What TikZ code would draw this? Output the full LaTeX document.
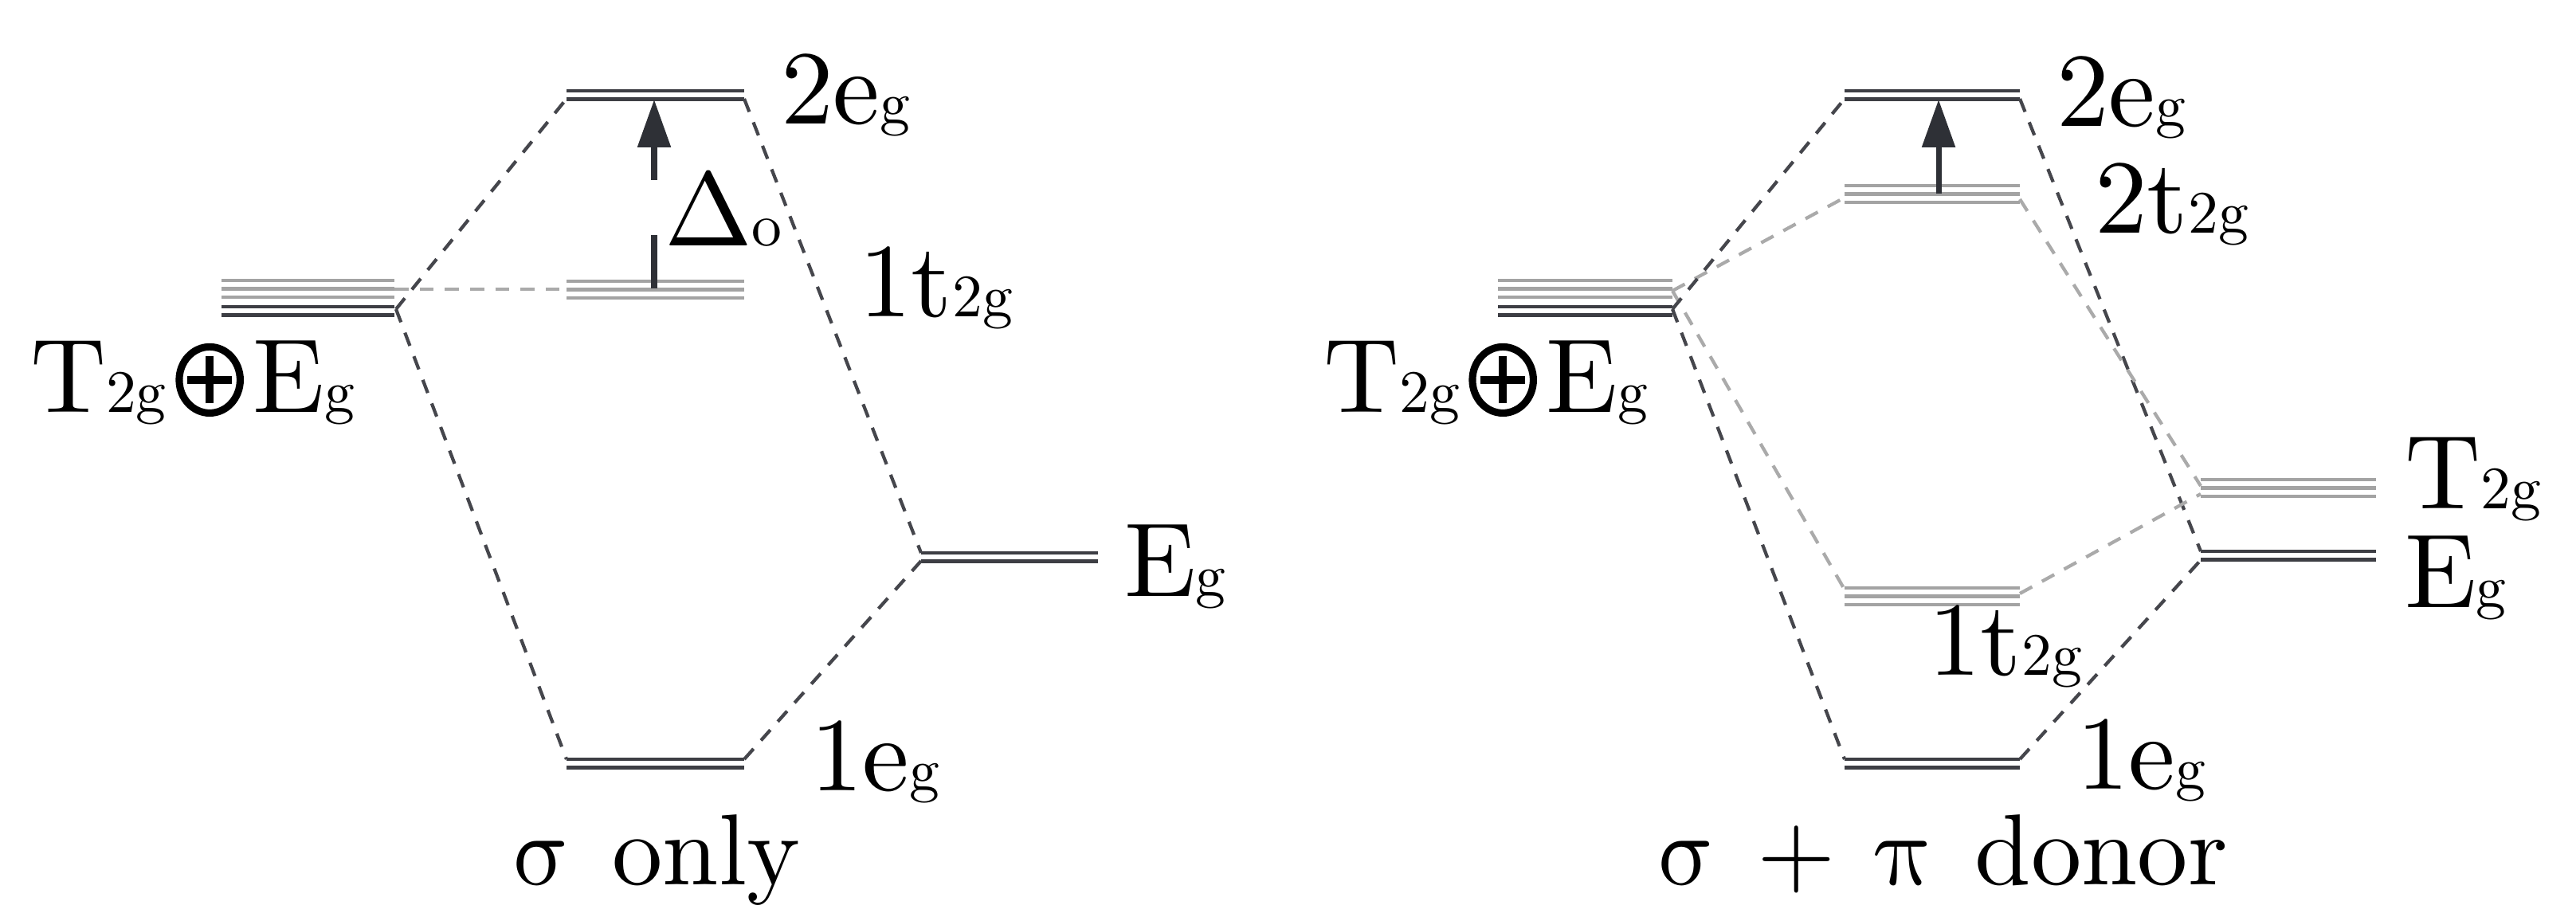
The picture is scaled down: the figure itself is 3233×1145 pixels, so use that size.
\RequirePackage{fix-cm}
\documentclass[tikz,border=0pt]{standalone}
\usepackage{graphicx}
\usetikzlibrary{arrows.meta}
\definecolor{levdark}{HTML}{3D3E44}
\definecolor{levgrey}{HTML}{A3A3A3}
\definecolor{condark}{HTML}{45464C}
\definecolor{congrey}{HTML}{AAAAAA}
\definecolor{arrdark}{HTML}{2E3036}
% all text is set at 10pt (10pt design size) and scaled up
\newcommand\subg[1]{\scalebox{0.573}{#1}}
\newcommand\lbl[1]{\scalebox{3.75}{\fontsize{10}{12}\selectfont #1}}
\newcommand\capt[1]{\scalebox{3.6}{\fontsize{10}{12}\selectfont #1}}
\newcommand\myoplus{\kern0.88pt\tikz[baseline=0pt,x=1pt,y=1pt]{\draw[line width=0.69pt] (0,3.04) ellipse[x radius=2.9pt, y radius=3.15pt]; \draw[line width=0.77pt] (-2.13,3.04)--(2.13,3.04) (0,0.8)--(0,5.28);}\kern0.88pt}
\newcommand\upgr[1]{\tikz[baseline=0pt]\node[inner sep=0pt,outer sep=0pt,anchor=base,xslant=-0.25,transform shape]{$#1$};}
\newcommand\levs[5]{\foreach \k in {1,...,#4}{\draw[levline,#5] (#1,{#3+(\k-1)*10.5}) -- (#2,{#3+(\k-1)*10.5});}}
\begin{document}
\begin{tikzpicture}[x=0.01cm,y=-0.01cm,
  levline/.style={line width=1.3pt},
  dk/.style={draw=levdark},
  gy/.style={draw=levgrey},
  condk/.style={draw=condark,line width=1.2pt,dash pattern=on 5pt off 4pt},
  congy/.style={draw=congrey,line width=1.2pt,dash pattern=on 5pt off 4pt},
  gap/.style={draw=arrdark,line width=2pt},
  lab/.style={inner sep=0pt,outer sep=0pt,anchor=base west}]
\path[use as bounding box] (0,0) rectangle (3233,1145);

% ---------- left diagram: levels ----------
\levs{278}{495}{352}{3}{gy}
\levs{278}{495}{385}{2}{dk}
\levs{711}{934}{114}{2}{dk}
\levs{711}{934}{353}{3}{gy}
\levs{1156}{1378}{694}{2}{dk}
\levs{711}{934}{953}{2}{dk}

\coordinate (sLd) at (497,388);
\coordinate (sLg) at (495,363);
\coordinate (e2Lw) at (711,124);
\coordinate (e2Le) at (934,124);
\coordinate (t1Lw) at (711,363);
\coordinate (EgLu) at (1156,694);
\coordinate (EgLd) at (1156,704);
\coordinate (e1Lw) at (711,953);
\coordinate (e1Le) at (934,953);
\coordinate (aLb) at (821,362);
\coordinate (aLm1) at (821,295);
\coordinate (aLm2) at (821,226);
\coordinate (aLt) at (821,125);

\draw[congy] (sLg) -- (t1Lw);
\draw[condk] (sLd) -- (e2Lw);
\draw[condk] (sLd) -- (e1Lw);
\draw[condk] (e2Le) -- (EgLu);
\draw[condk] (e1Le) -- (EgLd);
\draw[gap] (aLb) -- (aLm1);
\draw[gap,-{Triangle[length=17pt,width=11.5pt]}] (aLm2) -- (aLt);

% ---------- right diagram: levels ----------
\levs{1880}{2099}{352}{3}{gy}
\levs{1880}{2099}{385}{2}{dk}
\levs{2315}{2535}{114}{2}{dk}
\levs{2315}{2535}{233}{3}{gy}
\levs{2762}{2982}{602}{3}{gy}
\levs{2762}{2982}{692}{2}{dk}
\levs{2315}{2535}{738}{3}{gy}
\levs{2315}{2535}{953}{2}{dk}

\coordinate (sRd) at (2099,388);
\coordinate (sRg) at (2099,365);
\coordinate (e2Rw) at (2315,124);
\coordinate (e2Re) at (2535,124);
\coordinate (t2Rw) at (2315,248);
\coordinate (t2Re) at (2535,250);
\coordinate (T2Rw) at (2762,610);
\coordinate (T2Rw2) at (2762,620);
\coordinate (EgRu) at (2762,692);
\coordinate (EgRd) at (2762,703);
\coordinate (t1Rw) at (2315,740);
\coordinate (t1Re) at (2535,745);
\coordinate (e1Rw) at (2315,953);
\coordinate (e1Re) at (2535,953);
\coordinate (aRb) at (2433,243);
\coordinate (aRt) at (2433,125);

\draw[congy] (sRg) -- (t2Rw);
\draw[congy] (sRg) -- (t1Rw);
\draw[condk] (sRd) -- (e2Rw);
\draw[condk] (sRd) -- (e1Rw);
\draw[condk] (e2Re) -- (EgRu);
\draw[congy] (t2Re) -- (T2Rw);
\draw[congy] (t1Re) -- (T2Rw2);
\draw[condk] (e1Re) -- (EgRd);
\draw[gap,-{Triangle[length=17pt,width=11.5pt]}] (aRb) -- (aRt);

% ---------- labels ----------
\node[lab] (labTL) at (38,517) {\lbl{T\subg{2g}\myoplus E\subg{g}}};
\node[lab] (lab2egL) at (980,155) {\lbl{2e\subg{g}}};
\node[lab] (labDelta) at (834,308) {\lbl{$\Delta$\subg{o}}};
\node[lab] (lab1t2gL) at (1078,397) {\lbl{1t\subg{2g}}};
\node[lab] (labEgL) at (1411,748) {\lbl{E\subg{g}}};
\node[lab] (lab1egL) at (1017,992) {\lbl{1e\subg{g}}};
\node[lab] (capL) at (636,1110) {\capt{\upgr{\sigma} only}};

\node[lab] (labTR) at (1661,517) {\lbl{T\subg{2g}\myoplus E\subg{g}}};
\node[lab] (lab2egR) at (2581,158) {\lbl{2e\subg{g}}};
\node[lab] (lab2t2gR) at (2629,292) {\lbl{2t\subg{2g}}};
\node[lab] (labT2gR) at (3018,638) {\lbl{T\subg{2g}}};
\node[lab] (labEgR) at (3018,762) {\lbl{E\subg{g}}};
\node[lab] (lab1t2gR) at (2420,847) {\lbl{1t\subg{2g}}};
\node[lab] (lab1egR) at (2606,990) {\lbl{1e\subg{g}}};
\node[lab] (capR) at (2073,1110) {\capt{\upgr{\sigma} + \upgr{\pi} donor}};
\end{tikzpicture}
\end{document}
